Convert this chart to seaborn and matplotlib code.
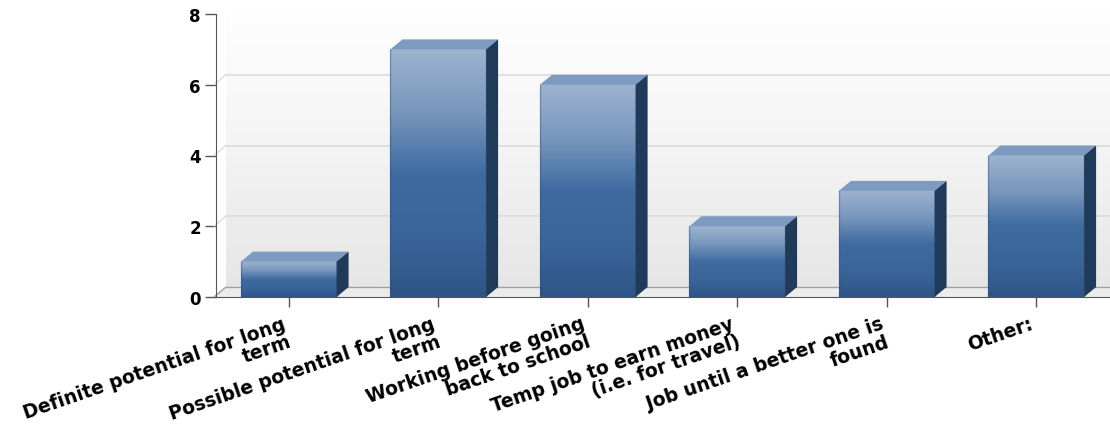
import numpy as np
import pandas as pd
import matplotlib
matplotlib.use('Agg')
import matplotlib.pyplot as plt
from matplotlib.colors import LinearSegmentedColormap
from matplotlib.patches import Polygon
from matplotlib.transforms import ScaledTranslation
import seaborn as sns

categories = ['Definite potential for long\nterm', 'Possible potential for long\nterm',
              'Working before going\nback to school', 'Temp job to earn money\n(i.e. for travel)',
              'Job until a better one is\nfound', 'Other:']
counts = [1, 7, 6, 2, 3, 4]
y_ticks = [0, 2, 4, 6, 8]

W, H = 1110, 431
sns.set_style('white')
plt.rcParams['font.family'] = ['DejaVu Sans']

df = pd.DataFrame({'category': categories, 'count': counts})

fig = plt.figure(figsize=(W / 100, H / 100), dpi=100)
ax = fig.add_axes([214 / W, 1 - 298 / H, 897 / W, 283 / H])
sns.barplot(data=df, x='category', y='count', color='#3a659b', width=0.64, ax=ax, zorder=3)
bars = list(ax.patches)

# depth of the fake 3d box, in data units
dx = 12 / (897 / 6)
dy = 10 / (283 / 8)

# back wall and floor
wall = LinearSegmentedColormap.from_list('wall', ['#e6e6e6', '#f4f4f4', '#ffffff'])
grad = np.linspace(0, 1, 256).reshape(-1, 1)
ax.imshow(grad, cmap=wall, origin='lower', aspect='auto', extent=(-0.5 + dx, 5.5, dy, 8 + dy), zorder=0, clip_on=True)
ax.add_patch(Polygon([(-0.5, 0), (-0.5 + dx, dy), (5.5, dy), (5.5, 0)], fc='#ececec', ec='none', zorder=1))
ax.plot([-0.5 + dx, 5.5], [dy, dy], color='#a0a0a0', lw=1, zorder=1.5)
ax.plot([-0.5, -0.5 + dx], [0, dy], color='#a0a0a0', lw=1, zorder=1.5)
for t in y_ticks[1:-1]:
    ax.plot([-0.5, -0.5 + dx], [t, t + dy], color='#dddddd', lw=1, zorder=1)
    ax.plot([-0.5 + dx, 5.5], [t + dy, t + dy], color='#dcdcdc', lw=1.2, zorder=1)

# bars get a vertical gradient, top and side faces added by hand
front = LinearSegmentedColormap.from_list('front', ['#2f5587', '#3a659b', '#3f6ba1', '#7897bd', '#9db3cf'])
vals = np.linspace(0, 1, 128).reshape(-1, 1)
for bar in bars:
    x0, w, h = bar.get_x(), bar.get_width(), bar.get_height()
    bar.set_edgecolor('none')
    ax.imshow(vals, cmap=front, origin='lower', aspect='auto', extent=(x0, x0 + w, 0, h), zorder=3.1)
    # soft dark rim on the front face
    ax.plot([x0, x0], [0, h], color='#2f4f78', lw=1, alpha=0.4, zorder=3.15)
    ax.plot([x0 + w, x0 + w], [0, h], color='#2f4f78', lw=1, alpha=0.4, zorder=3.15)
    ax.add_patch(Polygon([(x0, h), (x0 + dx, h + dy), (x0 + w + dx, h + dy), (x0 + w, h)],
                         fc='#7d9bc1', ec='none', zorder=3.2))
    ax.add_patch(Polygon([(x0 + w, 0), (x0 + w + dx, dy), (x0 + w + dx, h + dy), (x0 + w, h)],
                         fc='#203a59', ec='none', zorder=3.2))
ax.set_xlim(-0.5, 5.5)
ax.set_ylim(0, 8)

sns.despine(ax=ax, top=True, right=True)
# set_position resets the ticks, so it goes before the tick styling
ax.spines['left'].set_position(('outward', -1.5))
ax.spines['left'].set_color('#555555')
ax.spines['bottom'].set_color('#555555')

ax.set_xlabel('')
ax.set_ylabel('')
ax.set_yticks(y_ticks)
ax.set_yticklabels([str(t) for t in y_ticks], fontsize=12, fontweight='bold', color='black')
ax.set_xticks(range(len(categories)))
ax.set_xticklabels(categories, fontsize=13.5, fontweight='bold', color='black', rotation=19, ha='right',
                   rotation_mode='anchor', multialignment='right', linespacing=1.0)
ax.tick_params(axis='y', left=True, length=8, width=1, color='#555555', pad=3)
ax.tick_params(axis='x', bottom=True, length=7, width=1, color='#555555', pad=5)

# labels sit a little left of their ticks
shift = ScaledTranslation(-7 / 100, 0, fig.dpi_scale_trans)
for label in ax.get_xticklabels():
    label.set_transform(label.get_transform() + shift)

fig.savefig('out.png', dpi=100)
